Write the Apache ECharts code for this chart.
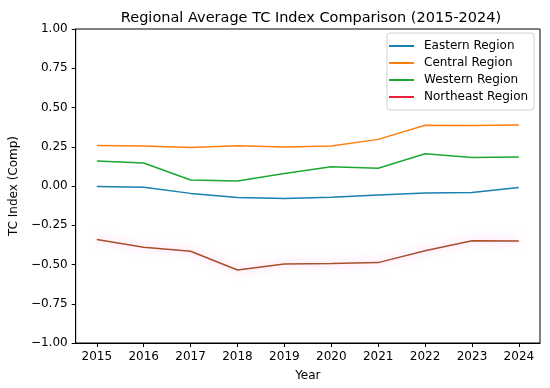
<!DOCTYPE html>
<html><head><meta charset="utf-8">
<script src="https://cdn.jsdelivr.net/npm/echarts@6/dist/echarts.min.js"></script>
<style>html,body{margin:0;padding:0;background:#fff}#c{width:550px;height:388px}</style>
</head><body><div id="c"></div>
<script>
const years = [2015,2016,2017,2018,2019,2020,2021,2022,2023,2024];
const eastern = [-0.003,-0.008,-0.047,-0.074,-0.080,-0.072,-0.057,-0.045,-0.041,-0.010];
const central = [0.258,0.254,0.246,0.257,0.249,0.255,0.297,0.387,0.385,0.388];
const western = [0.159,0.146,0.038,0.032,0.080,0.123,0.113,0.205,0.182,0.184];
const northeast = [-0.341,-0.390,-0.416,-0.535,-0.497,-0.494,-0.488,-0.412,-0.349,-0.350];
const yTicks = [-1,-0.75,-0.5,-0.25,0,0.25,0.5,0.75,1];

const font = 'DejaVu Sans';
const pair = a => years.map((y,i)=>[y,a[i]]);
const chart = echarts.init(document.getElementById('c'));
chart.setOption({
  animation:false,
  textStyle:{fontFamily:font},
  title:{text:'Regional Average TC Index Comparison (2015-2024)',left:306,textAlign:'center',top:6,
    textStyle:{fontFamily:font,fontSize:14.5,fontWeight:'normal',color:'#000'}},
  grid:{left:72,right:10,top:29,bottom:45,show:true,borderColor:'#000',borderWidth:1},
  legend:{left:387,top:33,orient:'vertical',icon:'rect',itemWidth:25,itemHeight:2,itemGap:3,
    borderColor:'#d0d0d0',borderWidth:1,borderRadius:3,padding:[6,6,6,2],backgroundColor:'rgba(255,255,255,0.8)',
    textStyle:{fontFamily:font,fontSize:12,color:'#000',lineHeight:14,padding:[0,0,0,5]},
    data:[{name:'Eastern Region',itemStyle:{color:'#1a80b0'}},
          {name:'Central Region',itemStyle:{color:'#ff7f0e'}},
          {name:'Western Region',itemStyle:{color:'#1aa832'}},
          {name:'Northeast Region',itemStyle:{color:'#e8203a'}}]},
  xAxis:{type:'value',min:2014.55,max:2024.45,name:'Year',nameLocation:'middle',nameGap:27,
    nameTextStyle:{fontFamily:font,fontSize:12,color:'#000'},
    splitLine:{show:false},
    axisLine:{onZero:false,lineStyle:{color:'#000'}},
    axisTick:{customValues:years,length:4,lineStyle:{color:'#000'}},
    axisLabel:{customValues:years,fontFamily:font,fontSize:12,color:'#000',formatter:v=>String(Math.round(v))}},
  yAxis:{type:'value',min:-1,max:1,interval:0.25,name:'TC Index (Comp)',nameLocation:'middle',nameGap:50,
    nameTextStyle:{fontFamily:font,fontSize:12,color:'#000'},
    splitLine:{show:false},
    axisLine:{show:true,onZero:false,lineStyle:{color:'#000'}},
    axisTick:{show:true,length:4,lineStyle:{color:'#000'}},
    axisLabel:{fontFamily:font,fontSize:12,color:'#000',formatter:v=>(v<0?'\u2212':'')+Math.abs(v).toFixed(2)}},
  series:[
    {name:'Eastern Region',type:'line',data:pair(eastern),symbol:'none',color:'#1a80b0',lineStyle:{width:1.5,color:'#1a80b0'}},
    {name:'Central Region',type:'line',data:pair(central),symbol:'none',color:'#ff7f0e',lineStyle:{width:1.5,color:'#ff7f0e'}},
    {name:'Western Region',type:'line',data:pair(western),symbol:'none',color:'#1aa832',lineStyle:{width:1.5,color:'#1aa832'}},
    {name:'Northeast Region',type:'line',data:pair(northeast),symbol:'none',color:'#e8203a',
      lineStyle:{width:1.5,color:'#a8502a',shadowColor:'rgba(255,110,220,0.6)',shadowBlur:9}}
  ]
});
</script></body></html>
